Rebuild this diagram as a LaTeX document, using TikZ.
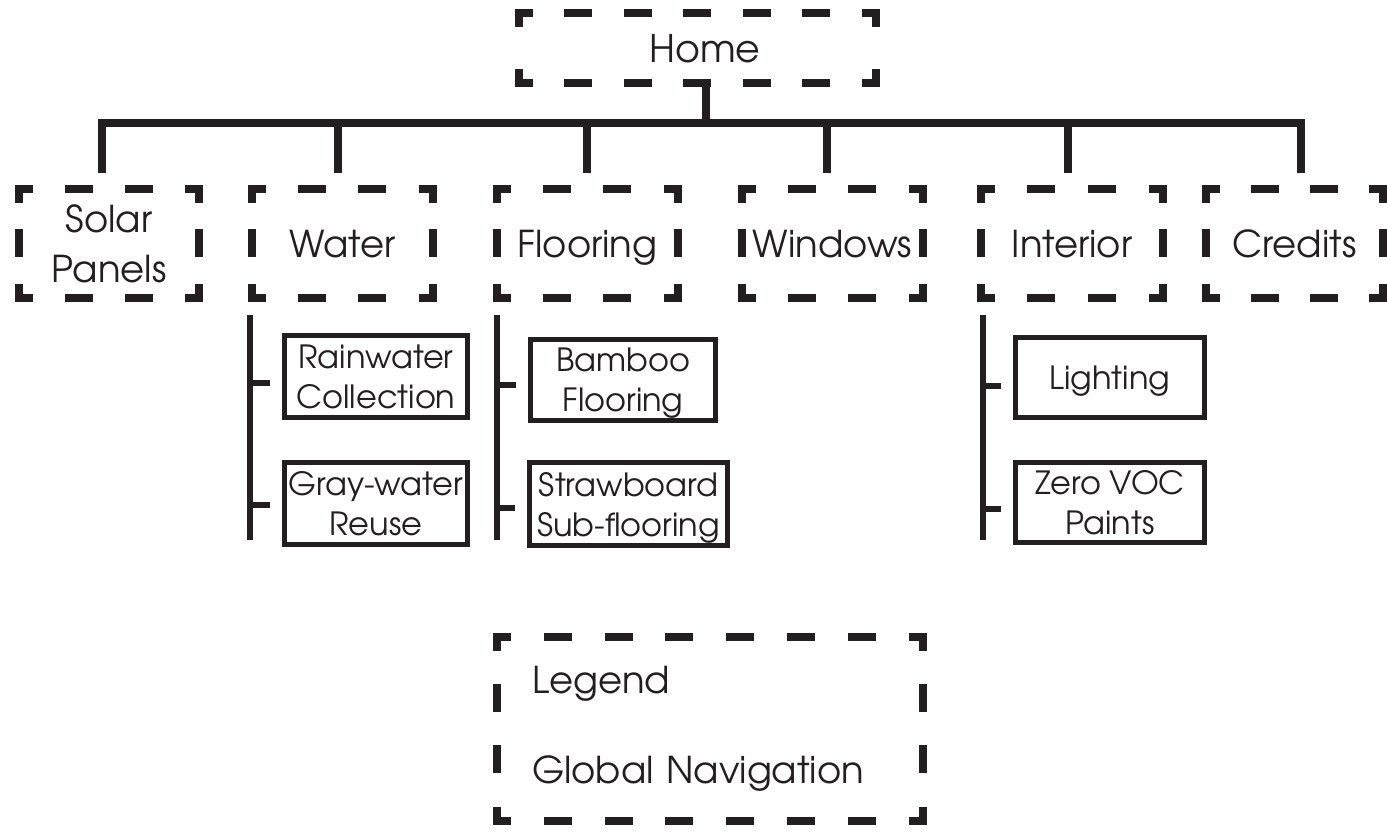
\documentclass[tikz,border=0pt]{standalone}
\usepackage{fontspec}
\setmainfont{TeX Gyre Adventor}
\usetikzlibrary{calc}
\definecolor{ink}{HTML}{231F20}
\tikzset{
  navline/.style={ink, line width=8pt, line cap=rect},
  treeline/.style={ink, line width=8pt, line cap=rect},
  subline/.style={ink, line width=6pt},
  navtext/.style={inner sep=0pt, align=center, text=ink, text depth=0pt, font=\fontsize{37}{50}\selectfont},
  subbox/.style={draw=ink, line width=5pt, inner sep=0pt, align=center, text=ink, text depth=0pt, font=\fontsize{32}{40}\selectfont},
}
% dashed page box: name, centre x, centre y, width, height, text
\newcommand\navbox[7][]{%
  \node[navtext, minimum width=#5pt, minimum height=#6pt, #1] (#2) at (#3,#4) {#7};
  \pgfmathsetmacro\gapw{#5/max(1,round(#5/60))-20}
  \pgfmathsetmacro\gaph{#6/max(1,round(#6/60))-20}
  \draw[navline, dash pattern=on 20pt off \gapw pt, dash phase=10pt]
    (#2.north west) -- (#2.north east) (#2.south west) -- (#2.south east);
  \draw[navline, dash pattern=on 20pt off \gaph pt, dash phase=10pt]
    (#2.north west) -- (#2.south west) (#2.north east) -- (#2.south east);
}
\begin{document}
\begin{tikzpicture}[x=1pt, y=-1pt]
\useasboundingbox (0,0) rectangle (1387,836);

\navbox[font=\fontsize{38}{50}\selectfont]{home}{697.5}{48}{357}{70}{\hspace*{15pt}Home}

% global navigation
\navbox{solar}{109}{243.5}{180}{109}{Solar\\Panels}
\navbox{water}{342.5}{243.5}{181}{109}{Water}
\navbox{flooring}{587.5}{243.5}{181}{109}{Flooring}
\navbox{windows}{832.5}{243.5}{181}{109}{Windows}
\navbox{interior}{1072}{243.5}{182}{109}{Interior}
\navbox{credits}{1294.5}{243.5}{177}{109}{Credits}

\coordinate (barL) at (102,123);
\coordinate (barR) at (1301,123);
\draw[treeline] (barL) -- (barR);
\draw[treeline] ($(home.south)+(8.5,0)$) -- ($(home.south |- barL)+(8.5,0)$);
\foreach \n/\dx in {solar/-7, water/-4.5, flooring/-0.5, windows/-5.5, interior/-4, credits/6.5}
  \draw[treeline] ($(\n.north |- barL)+(\dx,0)$) -- ($(\n.north)+(\dx,-20)$);

% sub pages
\node[subbox, minimum width=183pt, minimum height=82pt] (rain) at (376,376.5) {Rainwater\\Collection};
\node[subbox, minimum width=183pt, minimum height=82pt] (gray) at (376,503.5) {Gray-water\\Reuse};
\node[subbox, minimum width=185pt, minimum height=81pt] (bamboo) at (623,380) {Bamboo\\Flooring};
\node[subbox, minimum width=198pt, minimum height=83pt] (straw) at (628.5,504) {Strawboard\\Sub-flooring};
\node[subbox, minimum width=189pt, minimum height=80pt] (light) at (1110,377.5) {Lighting};
\node[subbox, minimum width=189pt, minimum height=80pt] (zero) at (1110,502.5) {Zero VOC\\Paints};

\coordinate (wv) at ($(water.south west)+(-2,17)$);
\coordinate (fv) at ($(flooring.south west)+(0.5,17)$);
\coordinate (iv) at ($(interior.south west)+(2.5,17)$);
\foreach \v in {wv, fv, iv}
  \draw[subline] (\v) -- ++(0,225);
\foreach \b/\v/\dy in {rain/wv/6.5, gray/wv/1.5, bamboo/fv/5, straw/fv/4, light/iv/8.5, zero/iv/6}
  \draw[subline, shorten >=12.5pt] ($(\b.west -| \v)+(0,\dy)$) -- ($(\b.west)+(0,\dy)$);

% legend
\navbox[text width=356pt, inner xsep=35pt, align=left, text depth=, font=\fontsize{37}{90}\selectfont]{legend}{710}{729}{426}{184}{Legend\\Global Navigation}
\end{tikzpicture}
\end{document}
